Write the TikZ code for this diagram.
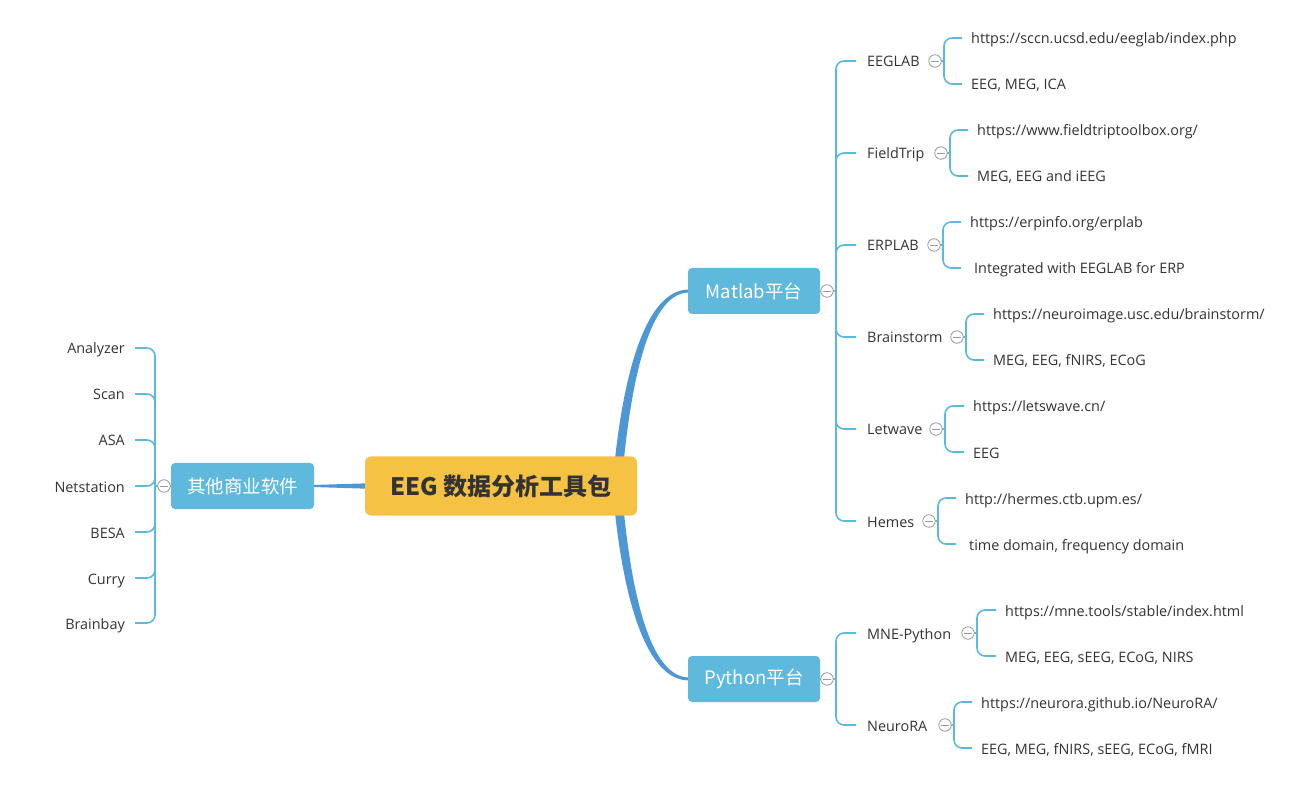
\documentclass[tikz,border=0pt]{standalone}
\usepackage{fontspec}
\setmainfont{Open Sans}
\newfontfamily\cjk{Noto Sans CJK SC}
\usetikzlibrary{calc}
\definecolor{cfill}{HTML}{F6C243}
\definecolor{bfill}{HTML}{5EB9DD}
\definecolor{curvec}{HTML}{4D97D4}
\definecolor{brc}{HTML}{5BB9E0}
\definecolor{txt}{HTML}{333333}
\definecolor{cgray}{HTML}{9A9A9A}
\tikzset{
  lbl/.style={inner sep=0pt,anchor=west,text=txt,font=\fontsize{14.4}{16}\selectfont,text height=13pt,text depth=1pt},
  lbll/.style={lbl,anchor=east},
  br/.style={draw=brc,line width=1.6pt,rounded corners=8pt},
  topic/.style={fill=bfill,rounded corners=4pt,text=white,font=\cjk\fontsize{18.5}{20}\selectfont,inner sep=0pt},
  rootbox/.style={fill=cfill,rounded corners=6pt,minimum width=272pt,minimum height=59pt,inner sep=0pt,text=txt,font=\cjk\bfseries\fontsize{24}{26}\selectfont},
  collapse/.style={circle,draw=cgray,fill=white,minimum size=12.5pt,inner sep=0pt,line width=0.8pt,
    path picture={\draw[cgray,line width=0.8pt] ([xshift=2pt]path picture bounding box.west) -- ([xshift=-2pt]path picture bounding box.east);}},
}
\begin{document}
\begin{tikzpicture}[x=1pt,y=-1pt]
\useasboundingbox (0,0) rectangle (1315,791);
\coordinate (root) at (501,486);
\coordinate (matlabW) at (689,291);
\coordinate (pythonW) at (689,679);
\coordinate (otherE) at (313,486);
% main curves (tapered)
\fill[curvec] (612.5,486) .. controls (618.5,410) and (637,289.5) .. ($(matlabW)+(0,-1.5)$) -- ($(matlabW)+(0,1.5)$) .. controls (643,292.5) and (627.5,412) .. (621.5,486) -- cycle;
\fill[curvec] (612.5,486) .. controls (618.5,562) and (637,680.5) .. ($(pythonW)+(0,1.5)$) -- ($(pythonW)+(0,-1.5)$) .. controls (643,677.5) and (627.5,560) .. (621.5,486) -- cycle;
\fill[curvec] ($(otherE)+(0,-1)$) -- (370,483.2) -- (370,488.8) -- ($(otherE)+(0,1)$) -- cycle;
% boxes
\node[rootbox] (rootnode) at (root) {EEG 数据分析工具包};
\node[topic,minimum width=132pt,minimum height=46pt] (matlab) at (754,291) {Matlab平台};
\node[topic,minimum width=132pt,minimum height=46pt] (python) at (754,679) {Python平台};
\node[topic,minimum width=143pt,minimum height=46pt] (other) at (242.5,486) {其他商业软件};

% ---------- Matlab children ----------
\coordinate (mbr) at (836,291);
\node[lbl] (eeglab) at (867,61) {EEGLAB};
\node[lbl] (fieldtrip) at (867,153) {FieldTrip};
\node[lbl] (erplab) at (867,245) {ERPLAB};
\node[lbl] (brainstorm) at (867,337) {Brainstorm};
\node[lbl] (letwave) at (867,429) {Letwave};
\node[lbl] (hemes) at (867,521) {Hemes};
\draw[br] (matlab.east) -- (mbr);
\foreach \n in {eeglab,fieldtrip,erplab,brainstorm,letwave,hemes}
  \draw[br] (mbr) |- ([xshift=-11pt]\n.west);
\node[collapse] (cmatlab) at (827,291) {};

% ---------- Python children ----------
\coordinate (pbr) at (836,679);
\node[lbl] (mne) at (867,633) {MNE-Python};
\node[lbl] (neurora) at (867,725) {NeuroRA};
\draw[br] (python.east) -- (pbr);
\foreach \n in {mne,neurora}
  \draw[br] (pbr) |- ([xshift=-11pt]\n.west);
\node[collapse] (cpython) at (827,679) {};

% ---------- grandchildren ----------
\foreach \p/\cx/\tx/\txx/\ta/\tb in {
  eeglab/935/971/971/{https://sccn.ucsd.edu/eeglab/index.php}/{EEG, MEG, ICA},
  fieldtrip/941/977/977/{https://www.fieldtriptoolbox.org/}/{MEG, EEG and iEEG},
  erplab/934/970/974/{https://erpinfo.org/erplab}/{Integrated with EEGLAB for ERP},
  brainstorm/957/993/993/{https://neuroimage.usc.edu/brainstorm/}/{MEG, EEG, fNIRS, ECoG},
  letwave/936/973/973/{https://letswave.cn/}/{EEG},
  hemes/929/965/969/{http://hermes.ctb.upm.es/}/{time domain, frequency domain},
  mne/968/1005/1005/{https://mne.tools/stable/index.html}/{MEG, EEG, sEEG, ECoG, NIRS},
  neurora/945/981/981/{https://neurora.github.io/NeuroRA/}/{EEG, MEG, fNIRS, sEEG, ECoG, fMRI}}
{
  \coordinate (\p-c) at (\cx,0 |- \p.west);
  \coordinate (\p-b) at ($(\p-c)+(9,0)$);
  \node[lbl] (\p-a) at ($(\tx,0 |- \p-c)+(0,-23)$) {\ta};
  \node[lbl] (\p-d) at ($(\txx,0 |- \p-c)+(0,23)$) {\tb};
  \draw[br] (\p-c) -- (\p-b);
  \draw[br] (\p-b) |- ($(\tx,0 |- \p-a.west)+(-9,0)$);
  \draw[br] (\p-b) |- ($(\tx,0 |- \p-d.west)+(-9,0)$);
  \node[collapse] (\p-cc) at (\p-c) {};
}

% ---------- other software ----------
\coordinate (obr) at (155,486);
\foreach \n/\t/\y in {analyzer/Analyzer/348, scan/Scan/394, asa/ASA/440, netstation/Netstation/486, besa/BESA/532, curry/Curry/578, brainbay/Brainbay/623}{
  \node[lbll] (\n) at (125,\y) {\t};
  \draw[br] (obr) |- ([xshift=10pt]\n.east);
}
\draw[br] (other.west) -- (obr);
\node[collapse] (cother) at (164,486) {};
\end{tikzpicture}
\end{document}
